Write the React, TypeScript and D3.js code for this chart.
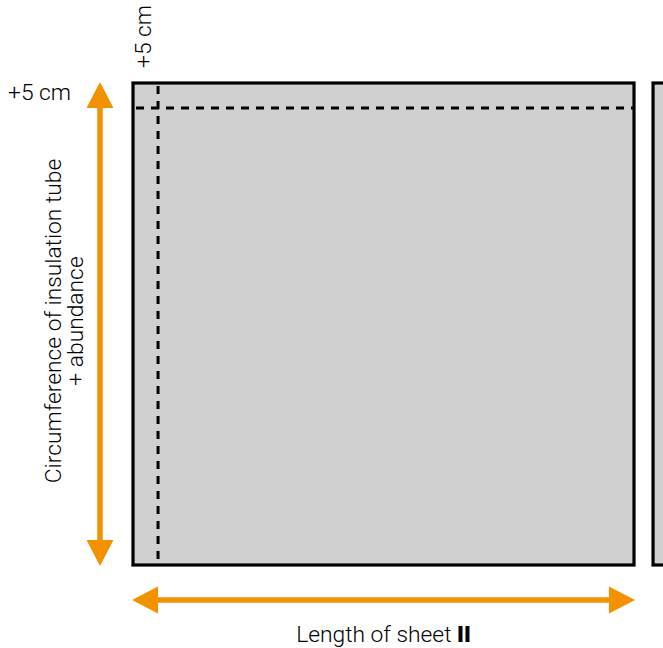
import React from "react";
import * as d3 from "d3";

// Diagram quantities (cm)
const sheetLength = [0, 100];
const sheetHeight = [0, 96.4];
const overlap = [5];
const nextSheetStart = [103.8];
const labels = ["+5 cm", "+5 cm", "Circumference of insulation tube", "+ abundance", "Length of sheet "];
const sheetNumber = ["II"];

const W = 663;
const H = 648;
const ORANGE = "#f39200";
const FONT = "Roboto, 'Liberation Sans', Arial, sans-serif";
const FS = 22.8;

export default function App() {
  const x = d3.scaleLinear().domain(sheetLength).range([133, 634]);
  const y = d3.scaleLinear().domain(sheetHeight).range([565, 83]);
  const x0 = x(0), x1 = x(100), yTop = y(96.4), yBot = y(0);
  const dashX = x(overlap[0]);
  const dashY = y(96.4 - overlap[0]);
  const arrowX = 100;
  const arrowY = 600;
  const headL = 26;
  const headW = 13.5;

  const vArrow = d3.path();
  vArrow.moveTo(arrowX, yTop - 1);
  vArrow.lineTo(arrowX - headW, yTop - 1 + headL);
  vArrow.lineTo(arrowX + headW, yTop - 1 + headL);
  vArrow.closePath();
  vArrow.moveTo(arrowX, yBot + 1);
  vArrow.lineTo(arrowX - headW, yBot + 1 - headL);
  vArrow.lineTo(arrowX + headW, yBot + 1 - headL);
  vArrow.closePath();

  const hArrow = d3.path();
  hArrow.moveTo(x0 - 1, arrowY);
  hArrow.lineTo(x0 - 1 + headL, arrowY - headW);
  hArrow.lineTo(x0 - 1 + headL, arrowY + headW);
  hArrow.closePath();
  hArrow.moveTo(x1 + 1, arrowY);
  hArrow.lineTo(x1 + 1 - headL, arrowY - headW);
  hArrow.lineTo(x1 + 1 - headL, arrowY + headW);
  hArrow.closePath();

  const midY = (yTop + yBot) / 2 - 3;

  return (
    <svg width={W} height={H} style={{ position: "absolute", left: 0, top: 0 }} fontFamily={FONT}>
      <rect x={0} y={0} width={W} height={H} fill="#fff" />
      {/* next sheet */}
      <rect x={x(nextSheetStart[0])} y={yTop} width={40} height={yBot - yTop} fill="#d0d0d0" stroke="#000" strokeWidth={3.2} />
      {/* main sheet */}
      <rect x={x0} y={yTop} width={x1 - x0} height={yBot - yTop} fill="#d0d0d0" stroke="#000" strokeWidth={3.2} />
      <line x1={x0} x2={x1} y1={dashY} y2={dashY} stroke="#000" strokeWidth={3} strokeDasharray="8 7" strokeDashoffset={-3} />
      <line x1={dashX} x2={dashX} y1={yTop} y2={yBot} stroke="#000" strokeWidth={3} strokeDasharray="8 7" strokeDashoffset={-3} />

      {/* arrows */}
      <line x1={arrowX} x2={arrowX} y1={yTop + 20} y2={yBot - 20} stroke={ORANGE} strokeWidth={5.5} />
      <line x1={x0 + 20} x2={x1 - 20} y1={arrowY} y2={arrowY} stroke={ORANGE} strokeWidth={5.5} />
      <path d={vArrow.toString()} fill={ORANGE} />
      <path d={hArrow.toString()} fill={ORANGE} />

      {/* texts */}
      <text x={8} y={100} fontSize={FS} fontWeight={300} fill="#000">{labels[0]}</text>
      <text transform={`translate(151,68) rotate(-90)`} fontSize={FS} fontWeight={300} fill="#000">{labels[1]}</text>
      <text transform={`translate(61,${midY}) rotate(-90)`} textAnchor="middle" fontSize={FS} fontWeight={300} fill="#000">{labels[2]}</text>
      <text transform={`translate(83,${midY}) rotate(-90)`} textAnchor="middle" fontSize={FS} fontWeight={300} fill="#000">{labels[3]}</text>
      <text x={(x0 + x1) / 2} y={642} textAnchor="middle" fontSize={FS} fontWeight={300} fill="#000">
        {labels[4]}
        <tspan fontWeight={900}>{sheetNumber[0]}</tspan>
      </text>
    </svg>
  );
}
